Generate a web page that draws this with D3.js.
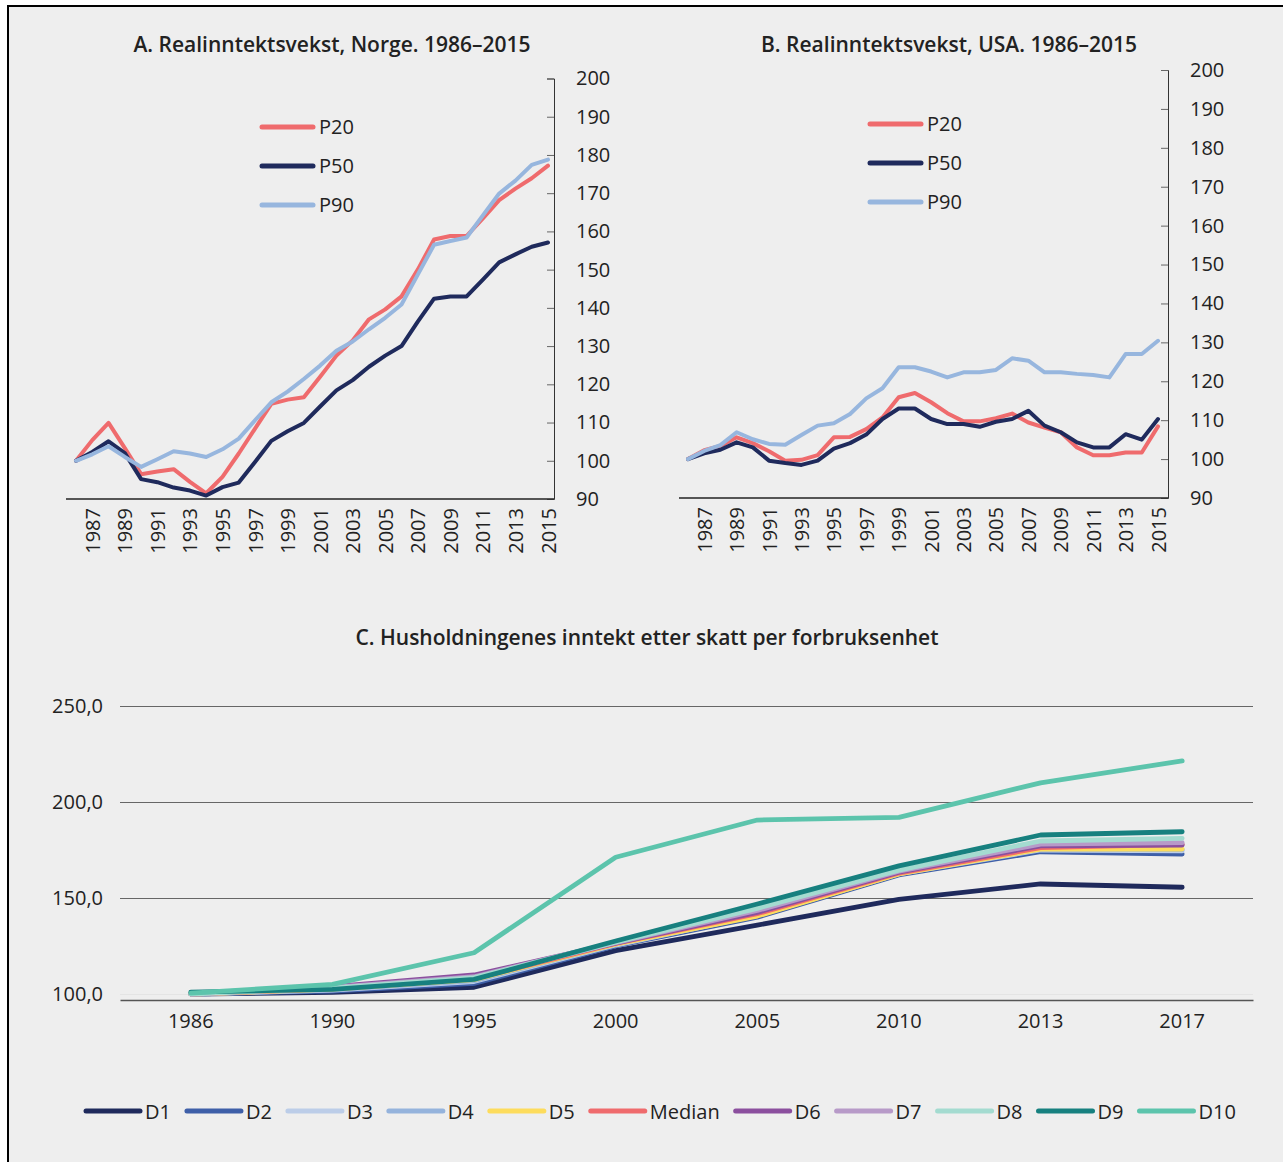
<!DOCTYPE html>
<html>
<head>
<meta charset="utf-8">
<script src="https://cdn.jsdelivr.net/npm/d3@7"></script>
<style>
  body { margin: 0; background: #fff; }
  svg { display: block; font-family: "Open Sans", sans-serif; }
  .axis text { fill: #222; font-size: 20px; font-family: "Open Sans", sans-serif; }
  .title { font-size: 21px; font-weight: 600; fill: #222; }
  .leg { font-size: 20px; fill: #222; }
</style>
</head>
<body>
<script>
// --- data: panel A / B (index 1986 = 100)
var years = d3.range(1986, 2016);
var percentiles = ["P20", "P50", "P90"];

var norP20 = [100, 105.4, 109.9, 103.3, 96.5, 97.2, 97.8, 94.5, 91.5, 95.8, 101.9, 108.4, 114.9, 116.0, 116.6,
              122.0, 127.5, 131.5, 137.0, 139.6, 143.0, 150.0, 157.9, 158.8, 158.8, 163.4, 168.2, 171.2, 173.9, 177.2];
var norP50 = [100, 102.3, 105.1, 102.0, 95.2, 94.4, 93.0, 92.2, 90.9, 93.1, 94.3, 99.7, 105.2, 107.7, 109.9,
              114.2, 118.4, 121.1, 124.6, 127.5, 130.0, 136.4, 142.4, 143.0, 143.0, 147.4, 151.9, 154.0, 156.0, 157.1];
var norP90 = [100, 101.7, 103.8, 101.0, 98.4, 100.4, 102.5, 101.9, 101.0, 103.0, 105.8, 110.6, 115.3, 118.1, 121.4,
              124.9, 128.8, 131.2, 134.4, 137.4, 140.9, 148.7, 156.5, 157.5, 158.4, 164.2, 169.9, 173.3, 177.4, 178.8];

var usaP20 = [100, 102.3, 103.4, 105.6, 104.1, 102.0, 99.6, 99.8, 101.0, 105.6, 105.7, 107.7, 110.7, 115.9, 117.0,
              114.6, 111.8, 109.7, 109.7, 110.5, 111.7, 109.4, 108.1, 106.9, 103.0, 101.0, 101.0, 101.7, 101.7, 108.4];
var usaP50 = [100, 101.5, 102.4, 104.3, 103.0, 99.6, 99.0, 98.5, 99.6, 102.7, 104.1, 106.3, 110.3, 113.0, 113.0,
              110.3, 109.0, 109.0, 108.3, 109.6, 110.3, 112.4, 108.6, 106.9, 104.3, 103.0, 103.0, 106.4, 105.0, 110.3];
var usaP90 = [100, 102.1, 103.6, 106.9, 105.1, 103.9, 103.7, 106.2, 108.6, 109.2, 111.6, 115.6, 118.2, 123.6, 123.6,
              122.5, 121.0, 122.3, 122.3, 122.9, 125.9, 125.3, 122.3, 122.3, 121.9, 121.6, 121.0, 127.0, 127.0, 130.4];

var pTicks = [90, 100, 110, 120, 130, 140, 150, 160, 170, 180, 190, 200];

// --- data: panel C (1986 = 100)
var cYears = ["1986", "1990", "1995", "2000", "2005", "2010", "2013", "2017"];
var deciles = ["D1", "D2", "D3", "D4", "D5", "Median", "D6", "D7", "D8", "D9", "D10"];
var d1  = [100, 100.8, 103.5, 122.6, 135.9, 149.3, 157.3, 155.6];
var d2  = [100, 101.5, 105.5, 125.0, 140.0, 162.0, 174.1, 172.9];
var d3v = [100, 102.0, 106.5, 125.5, 141.0, 162.5, 175.0, 174.5];
var d4  = [100, 102.3, 107.0, 126.0, 141.5, 163.0, 175.5, 175.2];
var d5  = [100, 102.5, 107.5, 126.0, 140.6, 162.5, 175.5, 175.5];
var med = [100, 102.8, 108.0, 126.3, 141.8, 163.0, 176.2, 177.9];
var d6  = [100, 103.8, 109.9, 126.5, 142.5, 163.5, 177.2, 177.6];
var d7  = [100, 103.5, 109.0, 126.8, 143.5, 164.0, 178.1, 178.8];
var d8  = [100, 103.0, 108.5, 127.0, 144.6, 164.5, 179.7, 181.1];
var d9  = [101, 102.4, 107.6, 127.6, 146.9, 166.7, 182.8, 184.5];
var d10 = [100.5, 105.0, 121.5, 171.2, 190.6, 192.0, 210.0, 221.4];
var cTicks = [100, 150, 200, 250];

var pColors = {P20: "#ef6b6d", P50: "#1f2a5c", P90: "#97b6de"};
var dColors = ["#1f2a5c", "#3e5fa8", "#bccde8", "#95b3dc", "#fddc5c", "#ef6b6d",
               "#8b4f9e", "#b79ac8", "#a4dbd0", "#17807f", "#5cc4ac"];

var svg = d3.select("body").append("svg")
    .attr("width", 1283)
    .attr("height", 1162);

// frame
svg.append("rect").attr("x", 8).attr("y", 5).attr("width", 1275).attr("height", 1157).attr("fill", "#eeeeee");
svg.append("line").attr("x1", 7).attr("x2", 1283).attr("y1", 6).attr("y2", 6).attr("stroke", "#000").attr("stroke-width", 2);
svg.append("line").attr("x1", 8).attr("x2", 8).attr("y1", 5).attr("y2", 1162).attr("stroke", "#000").attr("stroke-width", 2);

function drawPanel(opt) {
  var x = d3.scaleLinear().domain([1986, 2015]).range([opt.x0, opt.x1]),
      y = d3.scaleLinear().domain([90, 200]).range([opt.yBottom, opt.yTop]),
      g = svg.append("g");

  g.append("text").attr("class", "title")
    .attr("x", opt.titleX).attr("y", 52)
    .attr("text-anchor", "middle")
    .text(opt.title);

  // y axis on the right, ticks pointing in
  var ya = g.append("g").attr("class", "axis")
    .attr("transform", "translate(" + opt.axisX + ",0)")
    .call(d3.axisRight(y).tickValues(pTicks).tickSizeInner(-7).tickSizeOuter(-7).tickPadding(22));
  ya.select(".domain").attr("stroke", "#333");
  ya.selectAll(".tick line").attr("stroke", "#666");

  // x axis, rotated labels
  var xa = g.append("g").attr("class", "axis")
    .attr("transform", "translate(0," + opt.yBottom + ")")
    .call(d3.axisBottom(x).tickValues(d3.range(1987, 2016, 2)).tickFormat(d3.format("d")).tickSize(0));
  xa.select(".domain").remove();
  xa.selectAll("text")
    .attr("y", 0).attr("x", -9).attr("dy", "0.35em")
    .attr("transform", "rotate(-90)")
    .style("text-anchor", "end");
  g.append("line")
    .attr("x1", opt.lineStart).attr("x2", opt.axisX)
    .attr("y1", opt.yBottom).attr("y2", opt.yBottom)
    .attr("stroke", "#222").attr("stroke-width", 1.3);

  var line = d3.line()
    .x(function(d, i) { return x(years[i]); })
    .y(function(d) { return y(d); });

  opt.series.forEach(function(s, i) {
    g.append("path")
      .attr("d", line(s))
      .attr("fill", "none")
      .attr("stroke", pColors[percentiles[i]])
      .attr("stroke-width", 4)
      .attr("stroke-linejoin", "round")
      .attr("stroke-linecap", "round");
  });

  // legend
  percentiles.forEach(function(p, i) {
    var ly = opt.legY + i * 39;
    g.append("line")
      .attr("x1", opt.legX).attr("x2", opt.legX + 51)
      .attr("y1", ly).attr("y2", ly)
      .attr("stroke", pColors[p]).attr("stroke-width", 5).attr("stroke-linecap", "round");
    g.append("text").attr("class", "leg")
      .attr("x", opt.legX + 57).attr("y", ly).attr("dy", "0.35em")
      .text(p);
  });
}

drawPanel({
  title: "A. Realinntektsvekst, Norge. 1986–2015", titleX: 332,
  x0: 76, x1: 548, lineStart: 66, axisX: 554,
  yTop: 78.5, yBottom: 499,
  legX: 262, legY: 127,
  series: [norP20, norP50, norP90]
});

drawPanel({
  title: "B. Realinntektsvekst, USA. 1986–2015", titleX: 949,
  x0: 688, x1: 1158, lineStart: 679, axisX: 1168,
  yTop: 70, yBottom: 498,
  legX: 870, legY: 124,
  series: [usaP20, usaP50, usaP90]
});

// --- panel C
(function() {
  var x = d3.scaleBand().domain(cYears).range([120, 1253]),
      y = d3.scaleLinear().domain([100, 250]).range([994, 706]),
      g = svg.append("g");

  g.append("text").attr("class", "title")
    .attr("x", 647).attr("y", 645)
    .attr("text-anchor", "middle")
    .text("C. Husholdningenes inntekt etter skatt per forbruksenhet");

  var ya = g.append("g").attr("class", "axis")
    .attr("transform", "translate(120,0)")
    .call(d3.axisLeft(y).tickValues(cTicks).tickSize(-1133).tickPadding(17)
      .tickFormat(function(d) { return d.toFixed(1).replace(".", ","); }));
  ya.select(".domain").remove();
  ya.selectAll(".tick line")
    .attr("stroke", function(d) { return d === 100 ? "#e4e4e4" : "#666"; })
    .attr("stroke-width", 1.2);
  ya.selectAll(".tick text").attr("dy", "0.32em");

  var xa = g.append("g").attr("class", "axis")
    .attr("transform", "translate(0,1000)")
    .call(d3.axisBottom(x).tickSize(0).tickPadding(14));
  xa.select(".domain").attr("stroke", "#555").attr("stroke-width", 1.3);

  var line = d3.line()
    .x(function(d, i) { return x(cYears[i]) + x.bandwidth() / 2; })
    .y(function(d) { return y(d); });

  var cSeries = [d1, d2, d3v, d4, d5, med, d6, d7, d8, d9, d10];
  cSeries.forEach(function(s, i) {
    g.append("path")
      .attr("d", line(s))
      .attr("fill", "none")
      .attr("stroke", dColors[i])
      .attr("stroke-width", 4.8)
      .attr("stroke-linejoin", "round")
      .attr("stroke-linecap", "round");
  });

  // legend row
  var lx = 84;
  deciles.forEach(function(name, i) {
    g.append("line")
      .attr("x1", lx + 2).attr("x2", lx + 56)
      .attr("y1", 1111).attr("y2", 1111)
      .attr("stroke", dColors[i]).attr("stroke-width", 5).attr("stroke-linecap", "round");
    var t = g.append("text").attr("class", "leg")
      .attr("x", lx + 61).attr("y", 1112).attr("dy", "0.35em")
      .text(name);
    lx += 61 + t.node().getComputedTextLength() + 14;
  });
})();
</script>
</body>
</html>
